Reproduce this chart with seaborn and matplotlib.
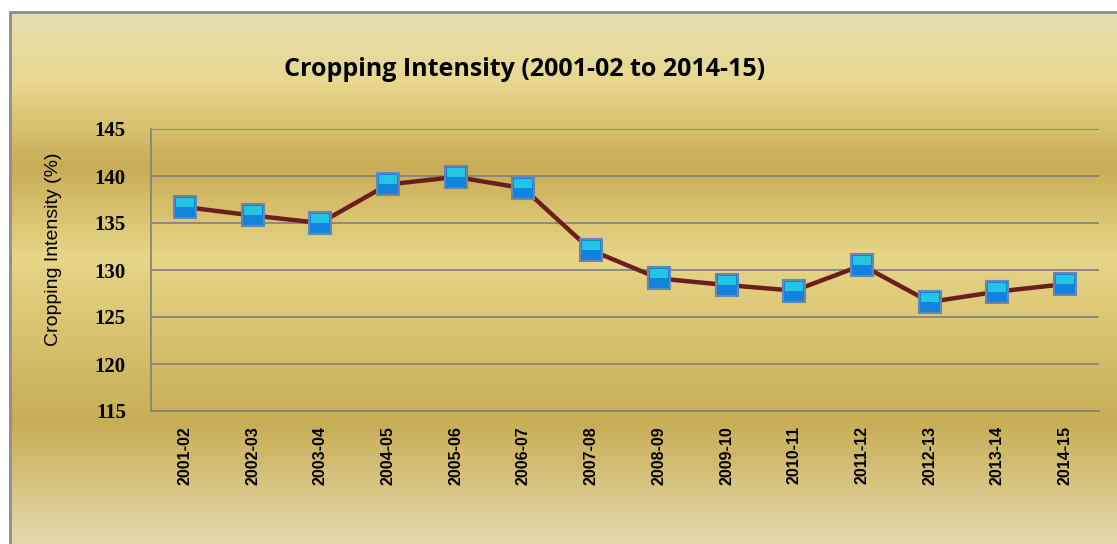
import numpy as np
import pandas as pd
import matplotlib
matplotlib.use("Agg")
import matplotlib.pyplot as plt
from matplotlib.colors import LinearSegmentedColormap
from matplotlib.patches import Rectangle
from matplotlib.path import Path
import seaborn as sns

# ---- data ----
years = ["2001-02", "2002-03", "2003-04", "2004-05", "2005-06", "2006-07", "2007-08",
         "2008-09", "2009-10", "2010-11", "2011-12", "2012-13", "2013-14", "2014-15"]
intensity = [136.7, 135.8, 135.0, 139.1, 139.9, 138.7, 132.1,
             129.1, 128.4, 127.8, 130.5, 126.6, 127.7, 128.5]
y_ticks = [115, 120, 125, 130, 135, 140, 145]
title = "Cropping Intensity (2001-02 to 2014-15)"
y_label = "Cropping Intensity (%)"

sns.set_theme(style="white")
plt.rcParams['font.family'] = ['DejaVu Sans']

W, H = 1117, 544
fig = plt.figure(figsize=(W / 100, H / 100), dpi=100)
fig.patch.set_facecolor("white")

# gold gradient background
bg_top = 12 / H
bg_left = 10 / W
bg = fig.add_axes([bg_left, 0, 1 - bg_left, 1 - bg_top], zorder=0)
stops = [(0.0, "#e6dfb0"), (0.13, "#e7d88e"), (0.29, "#c9ac55"), (0.46, "#e6d688"),
         (0.77, "#c8ad55"), (1.0, "#e3d9ab")]
cmap = LinearSegmentedColormap.from_list("gold", stops)
grad = np.linspace(0, 1, 512).reshape(-1, 1)
bg.imshow(grad, aspect="auto", cmap=cmap, extent=[0, 1, 0, 1], origin="upper")
bg.set_axis_off()
fig.add_artist(Rectangle((bg_left, -0.01), 1.0, 1 - bg_top + 0.01, transform=fig.transFigure,
                         fill=False, edgecolor="#8c8c8c", linewidth=2, zorder=1))

# main axes
left, right = 151 / W, 1099 / W
top, bottom = 1 - 129 / H, 1 - 411 / H
ax = fig.add_axes([left, bottom, right - left, top - bottom], zorder=2)
ax.set_facecolor("none")

df = pd.DataFrame({"pos": np.arange(len(years)), "val": intensity})
sns.lineplot(data=df, x="pos", y="val", ax=ax, color="#6b1e1e", linewidth=3.2,
             marker="s", markersize=15.5, markerfacecolor="#1283dc",
             markeredgecolor="#6a86b0", markeredgewidth=1.5, zorder=5)
# lighter cyan upper half of each marker (gradient look)
top_half = Path([(-1, 0), (1, 0), (1, 1), (-1, 1), (-1, 0)])
ax.plot(df["pos"], df["val"], linestyle="none", marker=top_half, markersize=13,
        markerfacecolor="#22c6e2", markeredgewidth=0, zorder=6)

ax.set_xlim(-0.5, len(years) - 0.5)
ax.set_ylim(115, 145)
ax.set_yticks(y_ticks)
ax.set_yticklabels([str(t) for t in y_ticks], fontfamily="Liberation Serif",
                   fontweight="bold", fontsize=15)
ax.set_xticks(np.arange(len(years)))
ax.set_xticklabels(years, rotation=90, fontfamily="Liberation Sans",
                   fontsize=11.5, fontweight="bold")
ax.set_xticks(np.arange(len(years) + 1) - 0.5, minor=True)
ax.tick_params(axis="x", which="major", length=0, pad=11, colors="black")
ax.tick_params(axis="x", which="minor", length=6, width=1.2, color="#808080", direction="out")
ax.tick_params(axis="y", which="major", length=9, width=1.2, color="#808080",
               direction="out", pad=9, labelcolor="black")
ax.yaxis.grid(True, color="#808080", linewidth=1.2)
ax.set_axisbelow(True)
for s in ["top", "right"]:
    ax.spines[s].set_visible(False)
for s in ["left", "bottom"]:
    ax.spines[s].set_color("#808080")
    ax.spines[s].set_linewidth(1.2)
ax.set_xlabel("")
ax.set_ylabel(y_label, fontfamily="Liberation Sans", fontsize=14, color="black")
ax.yaxis.set_label_coords(-0.094, 0.574)

fig.text(0.5 * (283 + 767) / W, 1 - 70 / H, title, ha="center", va="center",
         fontsize=18, fontweight="bold", fontfamily="Open Sans", color="black")

fig.savefig("out.png", dpi=100)
